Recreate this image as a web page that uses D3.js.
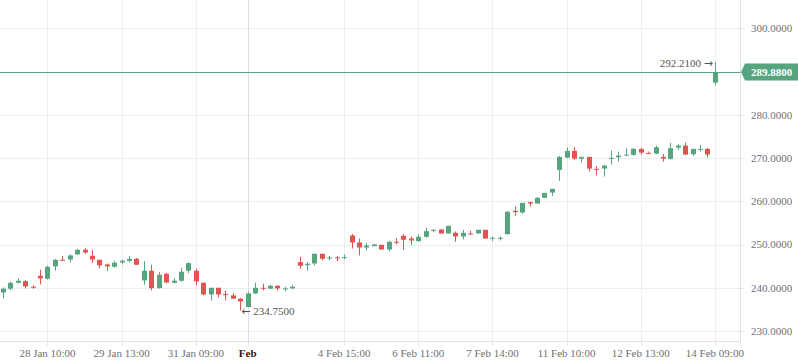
<!DOCTYPE html>
<html><head><meta charset="utf-8">
<script src="https://cdn.jsdelivr.net/npm/d3@7/dist/d3.min.js"></script>
<style>
html,body{margin:0;padding:0;background:#fff;}
svg{display:block;}
text{font-family:"Liberation Serif","DejaVu Serif",serif;}
</style></head>
<body>
<svg id="c" width="798" height="363"></svg>
<script>
// ---- data ----
const openV = [238.92,239.77,241.15,241.54,240.23,242.77,242.08,244.93,246.47,246.55,247.70,248.78,247.39,246.47,245.39,244.85,245.85,246.24,246.70,241.69,
243.93,239.92,243.23,241.15,241.62,243.93,243.93,241.15,238.46,240.00,238.54,238.23,237.46,235.53,238.69,240.00,239.77,240.46,239.69,239.85,
245.93,245.24,245.62,247.86,246.85,247.01,246.93,252.09,250.47,249.31,249.62,249.93,248.85,250.62,252.01,251.39,250.78,251.78,253.24,253.47,
252.55,252.70,251.86,252.55,252.55,253.40,251.39,251.39,252.40,257.79,257.40,259.79,259.48,260.79,262.02,267.26,270.11,271.65,269.87,270.26,
267.49,267.56,269.87,270.18,270.57,270.72,272.11,271.18,271.03,270.26,269.80,272.42,272.88,270.88,271.88,272.11,287.44];
const highV = [240.08,241.39,242.23,241.77,240.54,244.16,245.08,246.62,247.39,247.70,249.01,249.16,248.70,246.47,245.62,246.16,246.47,247.39,246.93,246.16,
245.31,243.62,243.47,242.16,244.62,245.85,244.39,241.23,240.00,240.00,239.31,238.77,237.61,239.00,241.16,240.92,240.69,240.62,240.23,240.62,
247.24,245.93,247.86,247.86,247.39,247.39,247.70,252.40,251.32,250.32,250.16,249.93,250.86,251.47,252.40,251.86,252.32,253.86,253.55,253.63,
254.32,253.01,253.40,253.17,253.40,253.40,251.86,251.86,257.79,258.79,259.63,259.94,260.94,261.94,262.87,270.49,272.42,272.57,270.26,270.26,
268.10,268.41,271.72,271.49,272.26,272.34,272.34,271.49,272.88,270.95,273.49,273.19,273.57,272.11,273.03,272.34,292.21];
const lowV = [237.53,239.38,241.00,239.84,239.77,240.77,241.92,243.93,246.30,245.85,247.70,247.78,245.85,244.47,243.93,244.62,245.39,245.85,245.31,240.69,
239.38,239.77,241.00,241.00,241.39,243.39,240.54,238.23,237.00,237.77,237.07,237.46,234.75,235.53,238.54,239.38,239.77,239.38,239.15,239.69,
244.39,244.00,245.16,246.32,246.32,246.16,246.55,249.08,247.47,248.62,249.62,248.85,248.39,250.01,248.78,249.93,250.62,251.63,252.86,252.55,
252.55,250.62,251.16,252.16,252.55,251.39,250.78,250.93,252.32,256.63,257.17,258.79,259.48,260.79,261.25,264.72,269.95,269.49,268.95,266.87,
265.94,265.71,268.49,269.18,270.41,270.57,270.72,270.95,270.95,269.18,269.64,271.88,270.72,270.49,271.49,270.11,286.74];
const closeV = [239.77,241.15,241.62,240.31,240.00,242.16,244.85,246.47,246.30,247.47,248.78,248.16,246.55,245.16,244.93,245.78,246.24,246.70,245.31,243.93,
239.92,243.00,241.23,241.62,243.70,245.70,241.46,238.46,240.00,238.46,238.38,237.46,236.84,238.69,240.00,239.77,240.46,239.85,239.85,240.23,
245.08,245.55,247.86,246.70,247.01,246.85,247.09,250.47,249.31,249.78,250.01,248.85,250.62,250.39,251.09,250.93,251.78,253.09,253.40,252.55,
254.32,251.86,252.70,252.32,253.40,251.39,251.55,251.55,257.56,257.48,259.63,259.48,260.79,261.94,262.87,270.26,271.65,269.87,270.26,267.56,
267.26,268.26,270.03,270.57,270.80,272.11,271.26,270.95,272.49,269.87,272.26,272.88,270.80,272.11,272.11,270.80,289.88];

const tickIdx = [6,16,26,33,46,56,66,76,86,96];
const tickLabels = ["28 Jan 10:00","29 Jan 13:00","31 Jan 09:00","Feb","4 Feb 15:00","6 Feb 11:00","7 Feb 14:00","11 Feb 10:00","12 Feb 13:00","14 Feb 09:00"];
const yTicks = [230,240,250,260,270,280,290,300];
const lastPrice = 289.88;

// ---- build ----
const data = openV.map((o,i)=>({i, o, h:highV[i], l:lowV[i], c:closeV[i]}));
const UP = "#56a57f", DOWN = "#e15452";
const W = 798, H = 363, plotR = 740.5, plotB = 341.5;

const x = d3.scaleLinear().domain([0, data.length-1]).range([3, 714.9]);
const y = d3.scaleLinear().domain([230, 300]).range([331, 28.3]);

const svg = d3.select("#c");
const fmt = d3.format(".4f");

// grid
const g = svg.append("g");
g.selectAll("line.hg").data(yTicks).join("line")
  .attr("x1",0).attr("x2",plotR).attr("y1",d=>Math.round(y(d))+0.5).attr("y2",d=>Math.round(y(d))+0.5)
  .attr("stroke","#eceef1").attr("stroke-width",1);
g.selectAll("line.vg").data(tickIdx).join("line")
  .attr("x1",d=>Math.round(x(d))+0.5).attr("x2",d=>Math.round(x(d))+0.5).attr("y1",0).attr("y2",plotB)
  .attr("stroke",(d,k)=>tickLabels[k]==="Feb" ? "#dcdee2" : "#eceef1").attr("stroke-width",1);

// axes borders
svg.append("line").attr("x1",plotR).attr("x2",plotR).attr("y1",0).attr("y2",plotB+4).attr("stroke","#dfe2e6");
svg.append("line").attr("x1",0).attr("x2",plotR).attr("y1",plotB).attr("y2",plotB).attr("stroke","#dfe2e6");

// right axis ticks + labels
const ya = svg.append("g");
ya.selectAll("line").data(yTicks).join("line")
  .attr("x1",plotR).attr("x2",plotR+4).attr("y1",d=>Math.round(y(d))+0.5).attr("y2",d=>Math.round(y(d))+0.5)
  .attr("stroke","#dfe2e6");
ya.selectAll("text").data(yTicks.filter(d=>d!==290)).join("text")
  .attr("x",751).attr("y",d=>y(d)).attr("dy","0.35em")
  .attr("font-size",11).attr("fill","#6f6f6f").text(d=>fmt(d));

// bottom axis ticks + labels
const xa = svg.append("g");
xa.selectAll("line").data(tickIdx).join("line")
  .attr("x1",d=>Math.round(x(d))+0.5).attr("x2",d=>Math.round(x(d))+0.5).attr("y1",plotB).attr("y2",plotB+4)
  .attr("stroke","#dfe2e6");
xa.selectAll("text").data(tickIdx).join("text")
  .attr("x",d=>x(d)).attr("y",357).attr("text-anchor","middle")
  .attr("font-size",11)
  .attr("font-weight",(d,k)=>tickLabels[k]==="Feb"?"bold":"normal")
  .attr("fill",(d,k)=>tickLabels[k]==="Feb"?"#222":"#6f6f6f")
  .text((d,k)=>tickLabels[k]);

// price line
svg.append("line").attr("x1",0).attr("x2",plotR).attr("y1",Math.round(y(lastPrice))+0.5).attr("y2",Math.round(y(lastPrice))+0.5)
  .attr("stroke",UP).attr("stroke-width",1);

// candles
const cg = svg.append("g");
const bw = 5;
cg.selectAll("line.w").data(data).join("line")
  .attr("x1",d=>Math.round(x(d.i))+0.5).attr("x2",d=>Math.round(x(d.i))+0.5)
  .attr("y1",d=>y(d.h)).attr("y2",d=>y(d.l))
  .attr("stroke",d=>d.c>=d.o?UP:DOWN).attr("stroke-width",1);
cg.selectAll("rect").data(data).join("rect")
  .attr("x",d=>Math.round(x(d.i))-2).attr("width",bw)
  .attr("y",d=>y(Math.max(d.o,d.c)))
  .attr("height",d=>Math.max(1, y(Math.min(d.o,d.c))-y(Math.max(d.o,d.c))))
  .attr("fill",d=>d.c>=d.o?UP:DOWN);

// last price label
const ly = y(lastPrice);
svg.append("path")
  .attr("d",`M${plotR+0.5},${ly} L${plotR+4.5},${ly-8.5} H${W} V${ly+8.5} H${plotR+4.5} Z`)
  .attr("fill",UP);
svg.append("text").attr("x",751).attr("y",ly).attr("dy","0.35em")
  .attr("font-size",11).attr("font-weight","bold").attr("fill","#fff").text(fmt(lastPrice));

// high / low annotations
const maxD = data.reduce((a,b)=>b.h>a.h?b:a);
const minD = data.reduce((a,b)=>b.l<a.l?b:a);
const hiT = svg.append("text").attr("x",x(maxD.i)-2).attr("y",y(maxD.h)+1).attr("dy","0.35em")
  .attr("text-anchor","end").attr("font-size",11).attr("fill","#555");
hiT.append("tspan").text(fmt(maxD.h)+" ");
hiT.append("tspan").attr("font-family","DejaVu Sans").attr("font-size",11).text("\u2192");
const loT = svg.append("text").attr("x",x(minD.i)+1).attr("y",y(minD.l)+1).attr("dy","0.35em")
  .attr("text-anchor","start").attr("font-size",11).attr("fill","#555");
loT.append("tspan").attr("font-family","DejaVu Sans").attr("font-size",11).text("\u2190");
loT.append("tspan").text(" "+fmt(minD.l));
</script>
</body></html>
